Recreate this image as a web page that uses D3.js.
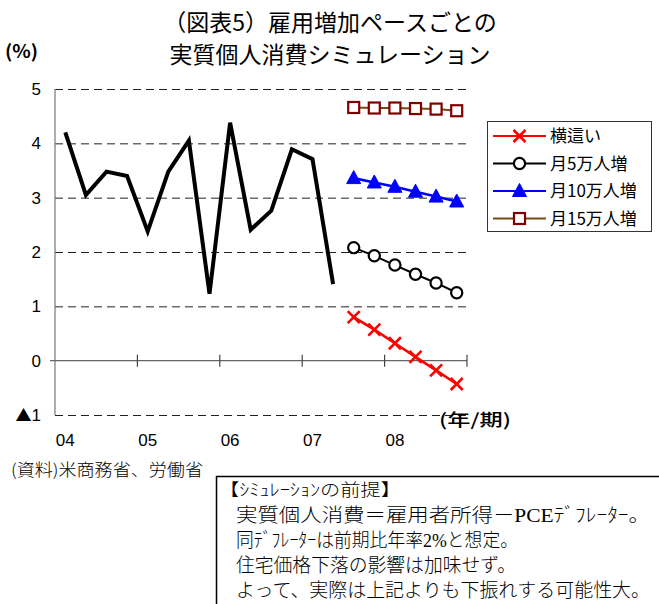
<!DOCTYPE html>
<html>
<head>
<meta charset="utf-8">
<script src="https://cdn.jsdelivr.net/npm/d3@7"></script>
<style>
  html, body { margin: 0; padding: 0; background: #fff; }
  svg { display: block; }
  text { font-family: "Noto Sans CJK JP", "Noto Sans", sans-serif; fill: #000; }
  .num { font-family: "Liberation Sans", Arial, "Noto Sans CJK JP", sans-serif; }
  .memo { font-family: "Liberation Serif", "Noto Sans CJK JP", serif; }
</style>
</head>
<body>
<svg id="chart" width="659" height="604"></svg>
<script>
// Quarterly categories, 2004Q1 - 2008Q4
const quarters = [
  "04Q1","04Q2","04Q3","04Q4",
  "05Q1","05Q2","05Q3","05Q4",
  "06Q1","06Q2","06Q3","06Q4",
  "07Q1","07Q2","07Q3","07Q4",
  "08Q1","08Q2","08Q3","08Q4"
];
const yearLabels = ["04","05","06","07","08"];

// Real personal consumption, q/q annualized (%), actual
const actualQuarters = [
  "04Q1","04Q2","04Q3","04Q4",
  "05Q1","05Q2","05Q3","05Q4",
  "06Q1","06Q2","06Q3","06Q4",
  "07Q1","07Q2"
];
const actual = [4.20, 3.05, 3.48, 3.40, 2.38, 3.48, 4.05, 1.23, 4.38, 2.41, 2.76, 3.89, 3.71, 1.41];

// Simulation paths by monthly payroll gain
const simQuarters = ["07Q3","07Q4","08Q1","08Q2","08Q3","08Q4"];
const simFlat = [0.80, 0.57, 0.32, 0.07, -0.18, -0.43];
const sim5 = [2.08, 1.93, 1.76, 1.59, 1.43, 1.25];
const sim10 = [3.36, 3.28, 3.20, 3.11, 3.02, 2.93];
const sim15 = [4.66, 4.65, 4.65, 4.64, 4.63, 4.60];

const seriesNames = ["横這い", "月5万人増", "月10万人増", "月15万人増"];
const yTicks = [5, 4, 3, 2, 1, 0, -1];

const titleLines = ["（図表5）雇用増加ペースごとの", "実質個人消費シミュレーション"];
const sourceNote = "(資料)米商務省、労働省";
const memoLines = [
  "【ｼﾐｭﾚｰｼｮﾝの前提】",
  "実質個人消費＝雇用者所得－PCEﾃﾞﾌﾚｰﾀｰ。",
  "同ﾃﾞﾌﾚｰﾀｰは前期比年率2%と想定。",
  "住宅価格下落の影響は加味せず。",
  "よって、実際は上記よりも下振れする可能性大。"
];

const svg = d3.select("#chart");
svg.append("rect").attr("width", 659).attr("height", 604).attr("fill", "#fff");

const plot = { left: 55, right: 467, top: 89, bottom: 415 };
const x = d3.scaleBand().domain(quarters).range([plot.left, plot.right]).padding(0);
const y = d3.scaleLinear().domain([-1, 5]).range([plot.bottom, plot.top]);
const cx = q => x(q) + x.bandwidth() / 2;

// Title
svg.selectAll("text.title").data(titleLines).join("text")
  .attr("class", "title")
  .attr("x", 330).attr("y", (d, i) => 23 + i * 32)
  .attr("dy", "0.35em").attr("text-anchor", "middle")
  .attr("font-size", 23).attr("font-weight", 400)
  .text(d => d);

// Unit
svg.append("text").attr("x", 5).attr("y", 52).attr("dy", "0.35em")
  .attr("font-size", 18).attr("font-weight", 600)
  .attr("textLength", 33).attr("lengthAdjust", "spacingAndGlyphs").text("(%)");

// Dashed gridlines (all except zero)
const grid = d3.axisLeft(y).tickValues(yTicks.filter(v => v !== 0))
  .tickSize(-(plot.right - plot.left)).tickFormat("");
svg.append("g").attr("transform", `translate(${plot.left},0)`).call(grid)
  .call(g => g.select(".domain").remove())
  .call(g => g.selectAll(".tick line").attr("stroke", "#222").attr("stroke-width", 1)
    .attr("stroke-dasharray", "8,5"));

// Y axis labels (negative values shown with a ▲ sign)
const yAxis = d3.axisLeft(y).tickValues(yTicks).tickSize(0).tickPadding(14).tickFormat("");
const yg = svg.append("g").attr("transform", `translate(${plot.left},0)`).call(yAxis)
  .call(g => g.select(".domain").remove());
yg.selectAll(".tick text").each(function(v) {
  const t = d3.select(this).attr("class", "num").attr("font-size", 17).attr("fill", "#000");
  if (v < 0) {
    t.append("tspan").style("font-family", "'Noto Sans CJK JP'").attr("font-size", 16).text("▲");
    t.append("tspan").text(String(Math.abs(v)));
  } else {
    t.text(String(v));
  }
});

// Y axis line
svg.append("line").attr("x1", plot.left).attr("x2", plot.left)
  .attr("y1", plot.top).attr("y2", plot.bottom)
  .attr("stroke", "#777").attr("stroke-width", 1.2);

// Zero line with year tick marks
svg.append("line").attr("x1", plot.left - 5).attr("x2", plot.right)
  .attr("y1", y(0)).attr("y2", y(0)).attr("stroke", "#666").attr("stroke-width", 1.2);
const yearStarts = quarters.filter(q => q.endsWith("Q1"));
const tickXs = yearStarts.map(q => x(q)).concat([plot.right]).slice(1);
svg.selectAll("line.xtick").data(tickXs).join("line")
  .attr("class", "xtick")
  .attr("x1", d => d).attr("x2", d => d)
  .attr("y1", y(0) - 6).attr("y2", y(0) + 6)
  .attr("stroke", "#444").attr("stroke-width", 1.2);

// Year labels at first quarter of each year
svg.selectAll("text.xlab").data(yearStarts).join("text")
  .attr("class", "num xlab")
  .attr("x", d => cx(d)).attr("y", 440).attr("dy", "0.35em")
  .attr("text-anchor", "middle").attr("font-size", 17)
  .text((d, i) => yearLabels[i]);

svg.append("text").attr("x", 475).attr("y", 420).attr("dy", "0.35em")
  .attr("text-anchor", "middle").attr("font-size", 17).attr("font-weight", 500)
  .attr("textLength", 72).attr("lengthAdjust", "spacingAndGlyphs")
  .text("(年/期)");

// Actual line
const line = d3.line().x(d => cx(d.q)).y(d => y(d.v));
svg.append("path")
  .datum(actualQuarters.map((q, i) => ({ q, v: actual[i] })))
  .attr("d", line).attr("fill", "none").attr("stroke", "#000")
  .attr("stroke-width", 4).attr("stroke-linejoin", "miter");

// Marker drawing helpers
function drawMarker(g, type, px, py) {
  if (type === "x") {
    const s = 6;
    g.append("path").attr("d", `M${px - s},${py - s}L${px + s},${py + s}M${px - s},${py + s}L${px + s},${py - s}`)
      .attr("stroke", "#ff0000").attr("stroke-width", 2.6).attr("fill", "none");
  } else if (type === "circle") {
    g.append("circle").attr("cx", px).attr("cy", py).attr("r", 5.6)
      .attr("fill", "#fff").attr("stroke", "#000").attr("stroke-width", 2.2);
  } else if (type === "tri") {
    g.append("path").attr("d", `M${px},${py - 7.5}L${px + 7},${py + 5.5}L${px - 7},${py + 5.5}Z`)
      .attr("fill", "#0000ff").attr("stroke", "#0000ff").attr("stroke-width", 1);
  } else if (type === "square") {
    g.append("rect").attr("x", px - 5.5).attr("y", py - 5.5).attr("width", 11).attr("height", 11)
      .attr("fill", "#fff").attr("stroke", "#800000").attr("stroke-width", 2.2);
  }
}

const simSeries = [
  { name: seriesNames[0], values: simFlat, line: "#ff0000", width: 2.6, marker: "x" },
  { name: seriesNames[1], values: sim5, line: "#000000", width: 2, marker: "circle" },
  { name: seriesNames[2], values: sim10, line: "#0000ff", width: 2.6, marker: "tri" },
  { name: seriesNames[3], values: sim15, line: "#7a4a14", width: 2, marker: "square" }
];

simSeries.forEach(s => {
  const g = svg.append("g");
  const pts = simQuarters.map((q, i) => ({ q, v: s.values[i] }));
  g.append("path").datum(pts).attr("d", line).attr("fill", "none")
    .attr("stroke", s.line).attr("stroke-width", s.width);
  pts.forEach(p => drawMarker(g, s.marker, cx(p.q), y(p.v)));
});

// Legend
const lg = svg.append("g");
lg.append("rect").attr("x", 487.5).attr("y", 121.5).attr("width", 164).attr("height", 110)
  .attr("fill", "#fff").attr("stroke", "#333").attr("stroke-width", 1);
simSeries.forEach((s, i) => {
  const ly = 136 + i * 27.5;
  const g = lg.append("g");
  g.append("line").attr("x1", 493).attr("x2", 546).attr("y1", ly).attr("y2", ly)
    .attr("stroke", s.line).attr("stroke-width", 2.2);
  drawMarker(g, s.marker, 519.5, ly);
  g.append("text").attr("x", 550).attr("y", ly).attr("dy", "0.36em")
    .attr("font-size", 17).text(s.name);
});

// Source note
svg.append("text").attr("x", 11).attr("y", 470).attr("dy", "0.35em")
  .attr("font-size", 16.5).attr("font-weight", 300)
  .attr("textLength", 192).attr("lengthAdjust", "spacingAndGlyphs")
  .text(sourceNote);

// Simulation assumptions box
svg.append("rect").attr("x", 216.5).attr("y", 476.5).attr("width", 480).attr("height", 200)
  .attr("fill", "#fff").attr("stroke", "#000").attr("stroke-width", 1.5);
const memoX = [219, 236, 236, 236, 236];
const memoW = [182, 414, 282, 280, 414];
svg.selectAll("text.memo").data(memoLines).join("text")
  .attr("class", "memo")
  .attr("x", (d, i) => memoX[i]).attr("y", (d, i) => 490 + i * 25).attr("dy", "0.36em")
  .attr("font-size", (d, i) => i === 0 ? 17 : 19)
  .attr("font-weight", 300)
  .attr("textLength", (d, i) => memoW[i]).attr("lengthAdjust", "spacingAndGlyphs")
  .text(d => d);
</script>
</body>
</html>
